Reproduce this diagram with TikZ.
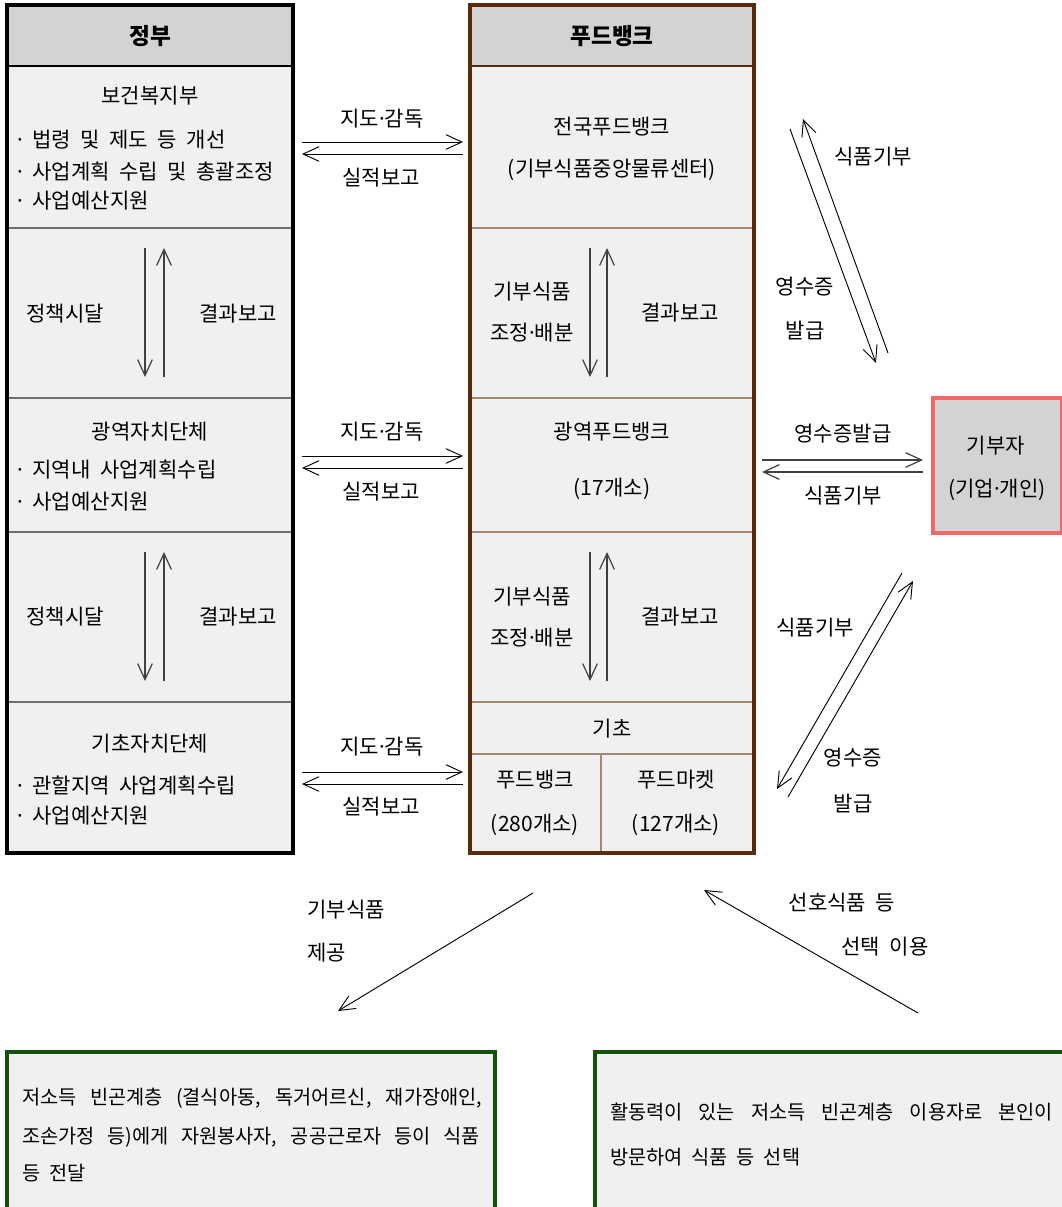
\documentclass[tikz,border=0pt]{standalone}
\usepackage{fontspec}
\setmainfont{Noto Sans CJK KR}[WordSpace=2.0]
\usetikzlibrary{arrows.meta}
\definecolor{hdrc}{RGB}{211,211,211}
\definecolor{bodyc}{RGB}{240,240,240}
\definecolor{brownc}{RGB}{88,42,14}
\definecolor{tanc}{RGB}{165,135,115}
\definecolor{sepc}{RGB}{110,110,110}
\definecolor{redc}{RGB}{240,104,104}
\definecolor{greenc}{RGB}{22,80,14}
\newcommand{\fbody}{\fontsize{15.8pt}{18pt}\selectfont}
\newcommand{\fsmall}{\fontsize{14.8pt}{17pt}\selectfont}
\newcommand{\ftitle}{\fontsize{17pt}{20pt}\selectfont\bfseries}
\newcommand{\mdot}{\makebox[0.28em][c]{·}}
\begin{document}
\begin{tikzpicture}[x=0.75pt,y=-0.75pt,
  txt/.style={inner sep=0pt, font=\fbody},
  btxt/.style={inner sep=0pt, font=\fsmall, anchor=west},
  arr/.style={-{Straight Barb[length=12pt,width=11pt]}, line width=0.7pt},
  garr/.style={arr, line width=0.9pt, black!75},
  sepL/.style={sepc, line width=1pt},
  sepR/.style={tanc, line width=1pt}]
\useasboundingbox (0,0) rectangle (1062,1207);
\clip (0,0) rectangle (1062,1207);

% ---------- left column (government)
\fill[bodyc] (7,5) rectangle (293,853);
\fill[hdrc] (7,5) rectangle (293,66);
\draw[line width=0.8pt] (7,66) -- (293,66);
\foreach \yy in {228,398,532,702} \draw[sepL] (7,\yy) -- (293,\yy);
\draw[line width=2.4pt] (7,5) rectangle (293,853);

% ---------- right column (food bank)
\fill[bodyc] (470,5) rectangle (754,853);
\fill[hdrc] (470,5) rectangle (754,66);
\draw[brownc, line width=0.9pt] (470,66) -- (754,66);
\foreach \yy in {228,398,532,702,754} \draw[sepR] (470,\yy) -- (754,\yy);
\draw[sepR] (601,754) -- (601,853);
\draw[brownc, line width=2.4pt] (470,5) rectangle (754,853);

% ---------- donor box
\draw[redc, line width=2.4pt, fill=hdrc] (933,398) rectangle (1062,533);

% ---------- beneficiary boxes
\draw[greenc, line width=3pt, fill=bodyc] (7,1052) rectangle (495,1240);
\draw[greenc, line width=3pt, fill=bodyc] (595,1052) rectangle (1080,1240);

% ---------- left column texts
\node[txt, font=\ftitle] (gov) at (150,36) {정부};
\node[txt] (mohw) at (150,96) {보건복지부};
\node[txt, anchor=west] (mohwa) at (17,140) {\mdot\ 법령 및 제도 등 개선};
\node[txt, anchor=west] (mohwb) at (17,172) {\mdot\ 사업계획 수립 및 총괄조정};
\node[txt, anchor=west] (mohwc) at (17,201) {\mdot\ 사업예산지원};
\node[txt] (polA) at (65,314) {정책시달};
\node[txt] (repA) at (238,314) {결과보고};
\node[txt] (metro) at (150,432) {광역자치단체};
\node[txt, anchor=west] (metroa) at (17,470) {\mdot\ 지역내 사업계획수립};
\node[txt, anchor=west] (metrob) at (17,502) {\mdot\ 사업예산지원};
\node[txt] (polB) at (65,617) {정책시달};
\node[txt] (repB) at (238,617) {결과보고};
\node[txt] (basic) at (150,744) {기초자치단체};
\node[txt, anchor=west] (basica) at (17,786) {\mdot\ 관할지역 사업계획수립};
\node[txt, anchor=west] (basicb) at (17,816) {\mdot\ 사업예산지원};

% ---------- right column texts
\node[txt, font=\ftitle] (fb) at (612,36) {푸드뱅크};
\node[txt] (natl) at (612,127) {전국푸드뱅크};
\node[txt] (natlb) at (612,170) {(기부식품중앙물류센터)};
\node[txt] (adjA) at (532,292) {기부식품};
\node[txt] (adjAb) at (532,333) {조정\mdot 배분};
\node[txt] (frepA) at (680,313) {결과보고};
\node[txt] (reg) at (612,432) {광역푸드뱅크};
\node[txt] (regb) at (612,489) {(17개소)};
\node[txt] (adjB) at (532,597) {기부식품};
\node[txt] (adjBb) at (532,638) {조정\mdot 배분};
\node[txt] (frepB) at (680,617) {결과보고};
\node[txt] (local) at (612,729) {기초};
\node[txt] (lfb) at (535,780) {푸드뱅크};
\node[txt] (lfbb) at (535,825) {(280개소)};
\node[txt] (lfm) at (676,780) {푸드마켓};
\node[txt] (lfmb) at (676,825) {(127개소)};

% ---------- donor texts
\node[txt] (donor) at (996,446) {기부자};
\node[txt] (donorb) at (997,490) {(기업\mdot 개인)};

% ---------- middle labels
\node[txt] (supA) at (382,119) {지도\mdot 감독};
\node[txt] (perfA) at (381,178) {실적보고};
\node[txt] (supB) at (382,432) {지도\mdot 감독};
\node[txt] (perfB) at (381,492) {실적보고};
\node[txt] (supC) at (382,747) {지도\mdot 감독};
\node[txt] (perfC) at (381,807) {실적보고};

% ---------- right side labels
\node[txt] (donA) at (873,157) {식품기부};
\node[txt] (rcpA) at (805,287) {영수증};
\node[txt] (rcpAb) at (805,330) {발급};
\node[txt] (rcpH) at (843,434) {영수증발급};
\node[txt] (donH) at (843,496) {식품기부};
\node[txt] (donC) at (815,628) {식품기부};
\node[txt] (rcpC) at (853,758) {영수증};
\node[txt] (rcpCb) at (853,803) {발급};

% ---------- bottom labels
\node[txt, anchor=west] (give) at (307,910) {기부식품};
\node[txt, anchor=west] (giveb) at (307,953) {제공};
\node[txt] (pref) at (842,903) {선호식품 등};
\node[txt] (prefb) at (885,947) {선택 이용};

% ---------- beneficiary texts
\node[btxt] (benA1) at (22,1098) {\makebox[345pt][s]{저소득 빈곤계층 (결식아동, 독거어르신, 재가장애인,}};
\node[btxt] (benA2) at (22,1137) {\makebox[343pt][s]{조손가정 등)에게 자원봉사자, 공공근로자 등이 식품}};
\node[btxt] (benA3) at (22,1173) {등 전달};
\node[btxt] (benB1) at (610,1112) {\makebox[332pt][s]{활동력이 있는 저소득 빈곤계층 이용자로 본인이}};
\node[btxt] (benB2) at (610,1157) {방문하여 식품 등 선택};

% ---------- arrow end points
\coordinate (hA1) at (302,142); \coordinate (hA2) at (463,142);
\coordinate (hA3) at (463,154); \coordinate (hA4) at (302,154);
\coordinate (hB1) at (302,456); \coordinate (hB2) at (463,456);
\coordinate (hB3) at (463,468); \coordinate (hB4) at (302,468);
\coordinate (hC1) at (302,772); \coordinate (hC2) at (463,772);
\coordinate (hC3) at (463,784); \coordinate (hC4) at (302,784);

\coordinate (vLA1) at (145,248); \coordinate (vLA2) at (145,377);
\coordinate (vLA3) at (164,377); \coordinate (vLA4) at (164,248);
\coordinate (vLB1) at (145,552); \coordinate (vLB2) at (145,681);
\coordinate (vLB3) at (164,681); \coordinate (vLB4) at (164,552);
\coordinate (vRA1) at (590,248); \coordinate (vRA2) at (590,377);
\coordinate (vRA3) at (607,377); \coordinate (vRA4) at (607,248);
\coordinate (vRB1) at (590,552); \coordinate (vRB2) at (590,681);
\coordinate (vRB3) at (607,681); \coordinate (vRB4) at (607,552);

\coordinate (dH1) at (762,460); \coordinate (dH2) at (923,460);
\coordinate (dH3) at (923,472); \coordinate (dH4) at (762,472);

\coordinate (dU1) at (790,129); \coordinate (dU2) at (876,363);
\coordinate (dU3) at (888,353); \coordinate (dU4) at (803,119);
\coordinate (dL1) at (902,573); \coordinate (dL2) at (777,789);
\coordinate (dL3) at (788,797); \coordinate (dL4) at (913,581);

\coordinate (bL1) at (533,893); \coordinate (bL2) at (338,1011);
\coordinate (bR1) at (918,1013); \coordinate (bR2) at (704,890);

% ---------- arrows
\draw[arr] (hA1) -- (hA2); \draw[arr] (hA3) -- (hA4);
\draw[arr] (hB1) -- (hB2); \draw[arr] (hB3) -- (hB4);
\draw[arr] (hC1) -- (hC2); \draw[arr] (hC3) -- (hC4);

\draw[garr] (vLA1) -- (vLA2); \draw[garr] (vLA3) -- (vLA4);
\draw[garr] (vLB1) -- (vLB2); \draw[garr] (vLB3) -- (vLB4);
\draw[garr] (vRA1) -- (vRA2); \draw[garr] (vRA3) -- (vRA4);
\draw[garr] (vRB1) -- (vRB2); \draw[garr] (vRB3) -- (vRB4);

\draw[garr] (dH1) -- (dH2); \draw[garr] (dH3) -- (dH4);

\draw[arr] (dU1) -- (dU2); \draw[arr] (dU3) -- (dU4);
\draw[arr] (dL1) -- (dL2); \draw[arr] (dL3) -- (dL4);

\draw[arr] (bL1) -- (bL2);
\draw[arr] (bR1) -- (bR2);
\end{tikzpicture}
\end{document}
